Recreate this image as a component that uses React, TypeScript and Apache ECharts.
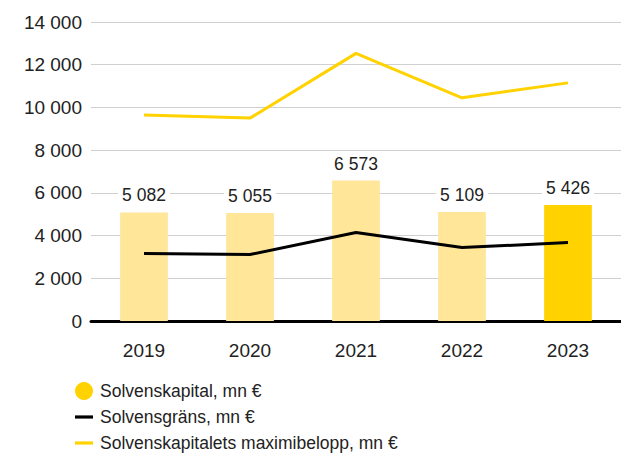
import React, { useEffect, useRef } from "react";
import * as echarts from "echarts";

const years = ["2019", "2020", "2021", "2022", "2023"];
const solvenskapital = [5082, 5055, 6573, 5109, 5426];
const solvensgrans = [3160, 3110, 4140, 3440, 3670];
const maximibelopp = [9640, 9500, 12530, 10450, 11150];
const barColors = ["#FFE699", "#FFE699", "#FFE699", "#FFE699", "#FFD200"];

const seriesNames = [
  "Solvenskapital, mn €",
  "Solvensgräns, mn €",
  "Solvenskapitalets maximibelopp, mn €",
];

const fmt = (v: number) => String(Math.round(v)).replace(/\B(?=(\d{3})+(?!\d))/g, " ");

const FONT = "Liberation Sans";

export default function App() {
  const ref = useRef<HTMLDivElement>(null);
  useEffect(() => {
    if (!ref.current) return;
    const chart = echarts.init(ref.current, undefined, { renderer: "svg" });
    chart.setOption({
      animation: false,
      textStyle: { fontFamily: FONT },
      grid: { left: 91, right: 0, top: 22, bottom: 132, containLabel: false },
      legend: {
        orient: "vertical",
        left: 75,
        top: 382,
        height: 120,
        padding: 0,
        itemWidth: 18,
        itemHeight: 18,
        itemGap: 8,
        textStyle: { fontSize: 17.5, color: "#222", fontFamily: FONT, padding: [0, 0, 0, 2] },
        data: [
          { name: seriesNames[0], icon: "circle", itemStyle: { color: "#FFD200" } },
          { name: seriesNames[1], icon: "path://M0,0H18V3.2H0Z" },
          { name: seriesNames[2], icon: "path://M0,0H18V3.2H0Z" },
        ],
      },
      xAxis: {
        type: "category",
        data: years,
        axisLine: { show: true, lineStyle: { color: "#000", width: 3 } },
        axisTick: { show: false },
        axisLabel: { fontSize: 19, color: "#222", margin: 20, fontFamily: FONT },
      },
      yAxis: {
        type: "value",
        min: 0,
        max: 14000,
        interval: 2000,
        axisLine: { show: false },
        axisTick: { show: false },
        splitLine: { lineStyle: { color: "#D0D0D0", width: 1 } },
        axisLabel: {
          fontSize: 19,
          color: "#222",
          margin: 9,
          fontFamily: FONT,
          formatter: (v: number) => fmt(v),
        },
      },
      series: [
        {
          name: seriesNames[0],
          type: "bar",
          barWidth: "45%",
          data: solvenskapital.map((v, i) => ({ value: v, itemStyle: { color: barColors[i] } })),
          itemStyle: { color: "#FFD200" },
          label: {
            show: true,
            position: "top",
            distance: 8,
            fontSize: 17.5,
            color: "#222",
            fontFamily: FONT,
            backgroundColor: "#fff",
            padding: [0, 4],
            formatter: (p: any) => fmt(p.value),
          },
          z: 2,
        },
        {
          name: seriesNames[1],
          type: "line",
          data: solvensgrans,
          symbol: "none",
          lineStyle: { color: "#000", width: 3 },
          itemStyle: { color: "#000" },
          z: 3,
        },
        {
          name: seriesNames[2],
          type: "line",
          data: maximibelopp,
          symbol: "none",
          lineStyle: { color: "#FFD200", width: 3 },
          itemStyle: { color: "#FFD200" },
          z: 3,
        },
      ],
    });
    return () => chart.dispose();
  }, []);
  return (
    <div
      ref={ref}
      style={{ position: "fixed", left: 0, top: 0, width: 621, height: 453, background: "#fff" }}
    />
  );
}
